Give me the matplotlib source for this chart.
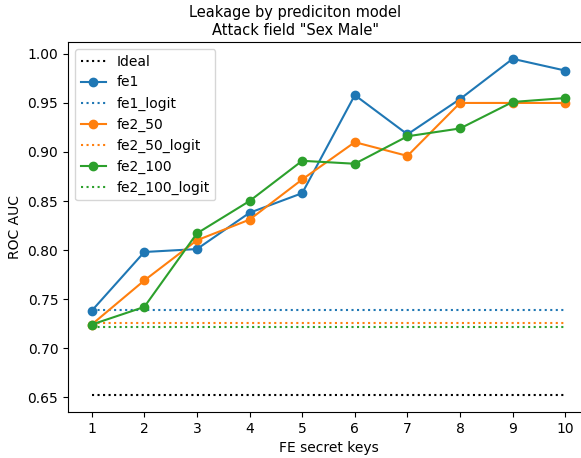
import numpy as np
import matplotlib
matplotlib.use('Agg')
import matplotlib.pyplot as plt

keys = np.arange(1, 11)
ideal = 0.652

fe1 = [0.738, 0.798, 0.801, 0.838, 0.858, 0.958, 0.918, 0.954, 0.995, 0.983]
fe1_logit = 0.739
fe2_50 = [0.724, 0.769, 0.810, 0.831, 0.872, 0.910, 0.896, 0.950, 0.950, 0.950]
fe2_50_logit = 0.726
fe2_100 = [0.724, 0.742, 0.817, 0.850, 0.891, 0.888, 0.916, 0.924, 0.951, 0.955]
fe2_100_logit = 0.722

dot = (0, (1, 1.65))  # style pointille plus serre, comme l'original

fig = plt.figure(figsize=(5.81, 4.58), dpi=100)
ax = fig.add_axes([68/581, 46/458, 521/581, 370/458])

ax.plot(keys, [ideal]*len(keys), color='k', linestyle=dot, label='Ideal')
ax.plot(keys, fe1, 'o-', color='C0', label='fe1')
ax.plot(keys, [fe1_logit]*len(keys), linestyle=dot, color='C0', label='fe1_logit')
ax.plot(keys, fe2_50, 'o-', color='C1', label='fe2_50')
ax.plot(keys, [fe2_50_logit]*len(keys), linestyle=dot, color='C1', label='fe2_50_logit')
ax.plot(keys, fe2_100, 'o-', color='C2', label='fe2_100')
ax.plot(keys, [fe2_100_logit]*len(keys), linestyle=dot, color='C2', label='fe2_100_logit')

ax.set_xticks(keys)
ax.set_xlabel('FE secret keys')
ax.set_ylabel('ROC AUC')
fig.text(295/581, 1 - 21.5/458, 'Leakage by prediciton model\nAttack field "Sex Male"',
         ha='center', va='center', fontsize=10.5, linespacing=1.25)
ax.legend(loc='upper left', handlelength=1.8)

plt.savefig('out.png', dpi=100)
